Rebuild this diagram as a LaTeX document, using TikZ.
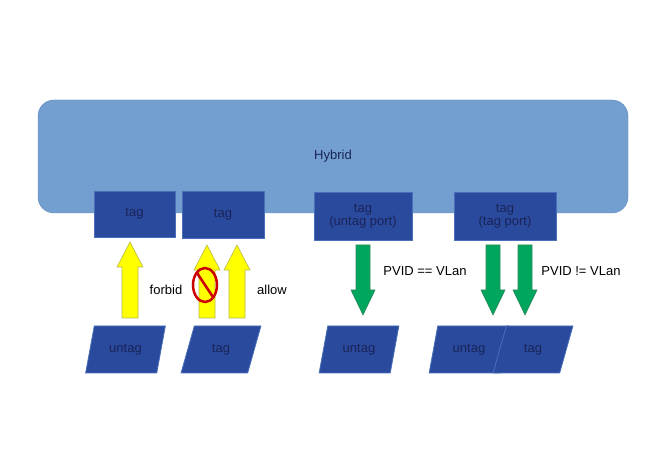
\documentclass[tikz,border=0pt]{standalone}
\usepackage{fontspec}
\setmainfont{Liberation Sans}
\usetikzlibrary{shapes.geometric}
\definecolor{hyb}{HTML}{729FCF}
\definecolor{hybd}{HTML}{5A88BC}
\definecolor{box}{HTML}{2A4A9E}
\definecolor{boxb}{HTML}{4A6FB8}
\definecolor{txt}{HTML}{1A2458}
\definecolor{ylw}{HTML}{FFFF00}
\definecolor{ylwb}{HTML}{B8B84A}
\definecolor{grn}{HTML}{00A65D}
\definecolor{grnb}{HTML}{2E8A5A}
\begin{document}
\begin{tikzpicture}[x=1pt,y=-1pt,
  every node/.style={font=\fontsize{13}{15}\selectfont},
  tagbox/.style={draw=boxb,fill=box,text=txt,inner sep=0pt,align=center,line width=0.8pt},
  port/.style={trapezium,trapezium left angle=68,trapezium right angle=112,trapezium stretches=true,
     draw=boxb,fill=box,text=txt,minimum width=80pt,minimum height=47pt,inner sep=0pt,line width=0.8pt},
  lbl/.style={text=black}]
\useasboundingbox (0,0) rectangle (665,473);
\fill[white] (0,0) rectangle (665,473);
\draw[hybd,fill=hyb,rounded corners=16pt] (38,100) rectangle (628,213);
\node[text=txt] (hyb) at (333,156) {Hybrid};
\node[tagbox,minimum width=81pt,minimum height=46pt] (t1) at (134.5,214) {tag};
\node[tagbox,minimum width=82pt,minimum height=47pt] (t2) at (223,214.5) {tag};
\node[tagbox,minimum width=98pt,minimum height=48pt] (t3) at (363,216) {tag\\[-2pt](untag port)};
\node[tagbox,minimum width=102pt,minimum height=48pt] (t4) at (505,216) {tag\\[-2pt](tag port)};
\node[port] (p1) at (125.5,349.5) {untag};
\node[port] (p2) at (221,349.5) {tag};
\node[port] (p3) at (359,349.5) {untag};
\node[port] (p4) at (469,349.5) {untag};
\node[port] (p5) at (533,349.5) {tag};
% up arrows
\newcommand\uparr[3]{\draw[ylwb,fill=ylw,line width=0.6pt] (#1-8,#3) -- (#1-8,#2+25) -- (#1-13,#2+25) -- (#1,#2) -- (#1+13,#2+25) -- (#1+8,#2+25) -- (#1+8,#3) -- cycle;}
\newcommand\dnarr[3]{\draw[grnb,fill=grn,line width=0.6pt] (#1-7,#2) -- (#1-7,#3-25) -- (#1-12,#3-25) -- (#1,#3) -- (#1+12,#3-25) -- (#1+7,#3-25) -- (#1+7,#2) -- cycle;}
\uparr{130}{242}{318}
\uparr{207}{245}{318}
\uparr{237}{245}{318}
\dnarr{363}{245}{315}
\dnarr{493}{245}{315}
\dnarr{525}{245}{315}
% forbid sign
\draw[red!80!black,line width=2.5pt] (205,285) ellipse (12 and 17);
\draw[red!80!black,line width=2.5pt] (197,273) -- (213,297);
\node[lbl] (f) at (166,290) {forbid};
\node[lbl] (a) at (272,290) {allow};
\node[lbl] (e) at (425,271) {PVID == VLan};
\node[lbl] (n) at (581,271) {PVID != VLan};
\end{tikzpicture}
\end{document}
